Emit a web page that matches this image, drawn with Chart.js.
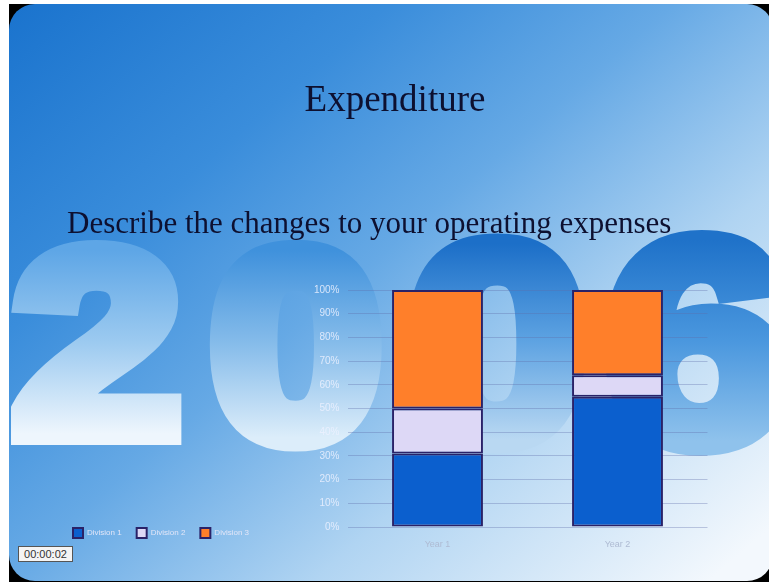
<!DOCTYPE html>
<html lang="en">
<head>
  <meta charset="UTF-8">
  <title>Expenditure</title>
  <script src="https://cdn.jsdelivr.net/npm/chart.js"></script>
  <style>
    html, body {
      margin: 0;
      padding: 0;
      background: #fff;
      width: 769px;
      height: 582px;
      overflow: hidden;
    }
    #backdrop {
      position: absolute;
      left: 0;
      top: 0;
    }
    #title {
      position: absolute;
      left: 0;
      top: 80px;
      width: 790px;
      text-align: center;
      font-family: "Liberation Serif", serif;
      font-size: 37px;
      line-height: 37px;
      color: #0d1030;
    }
    #subtitle {
      position: absolute;
      left: 67px;
      top: 207px;
      font-family: "Liberation Serif", serif;
      font-size: 31px;
      line-height: 31px;
      color: #0d1030;
      white-space: nowrap;
    }
    #chartBox {
      position: absolute;
      left: 58px;
      top: 276px;
      width: 711px;
      height: 308px;
    }
    #clock {
      position: absolute;
      left: 18px;
      top: 546px;
      width: 53px;
      height: 14px;
      background: #f4f4f4;
      border: 1px solid #555;
      font-family: "Liberation Sans", sans-serif;
      font-size: 11px;
      line-height: 14px;
      color: #333;
      text-align: center;
    }
  </style>
</head>
<body>
<canvas id="backdrop" width="769" height="582"></canvas>

<div id="title">Expenditure</div>
<div id="subtitle">Describe the changes to your operating expenses</div>

<div id="chartBox"><canvas id="expChart"></canvas></div>
<div id="clock">00:00:02</div>

<script>
const categories = ['Year 1', 'Year 2'];
const seriesNames = ['Division 1', 'Division 2', 'Division 3'];
const division1 = [31, 55];
const division2 = [19, 9];
const division3 = [50, 36];
const seriesColors = ['#0b5fce', '#ddd8f6', '#ff7f2a'];

// slide background with the big "2006" behind everything
(function drawBackdrop() {
  const c = document.getElementById('backdrop').getContext('2d');
  c.fillStyle = '#fff';
  c.fillRect(0, 0, 769, 582);
  c.fillStyle = '#000';
  c.fillRect(9, 4, 770, 590);

  const bg = c.createLinearGradient(40, -60, 640, 640);
  bg.addColorStop(0, '#1670cc');
  bg.addColorStop(0.3, '#3a8ddb');
  bg.addColorStop(0.5, '#66a9e5');
  bg.addColorStop(0.72, '#b0d4f2');
  bg.addColorStop(1, '#f3f8fd');
  c.beginPath();
  c.roundRect(9, 4, 764, 577, 26);
  c.fillStyle = bg;
  c.fill();

  const digits = [
    { ch: '2', cx: 97,  base: 434, size: 262, tone: ['#5ea6e6', '#9ccaf0', '#eef6fd'] },
    { ch: '0', cx: 296, base: 438, size: 268, tone: ['#3f91dc', '#86bcea', '#dcedfa'] },
    { ch: '0', cx: 497, base: 440, size: 280, tone: ['#1c6fc8', '#5ea3e2', '#b9d8f2'] },
    { ch: '6', cx: 697, base: 442, size: 288, tone: ['#1f72c9', '#4a97de', '#8fc2ec'] }
  ];
  digits.forEach(d => {
    const h = d.size * 0.74;
    const g = c.createLinearGradient(0, d.base - h, 0, d.base + 10);
    g.addColorStop(0.05, d.tone[0]);
    g.addColorStop(0.5, d.tone[1]);
    g.addColorStop(0.95, d.tone[2]);
    c.save();
    c.translate(d.cx, 0);
    c.scale(1.15, 1);
    c.font = 'bold ' + d.size + 'px "Liberation Sans", Arial, sans-serif';
    c.textAlign = 'center';
    c.textBaseline = 'alphabetic';
    c.fillStyle = g;
    c.strokeStyle = g;
    c.lineWidth = 22;
    c.lineJoin = 'miter';
    c.miterLimit = 2;
    c.fillText(d.ch, 0, d.base);
    c.strokeText(d.ch, 0, d.base);
    c.restore();
  });
})();

// legend sits on the same line as the foot of the bars
const legendLift = {
  id: 'legendLift',
  afterLayout(chart) {
    const lg = chart.legend;
    lg.top -= 36;
    lg.bottom -= 36;
  }
};

Chart.defaults.font.family = '"Liberation Sans", Arial, sans-serif';

const ctx = document.getElementById('expChart').getContext('2d');
new Chart(ctx, {
  type: 'bar',
  data: {
    labels: categories,
    datasets: [division1, division2, division3].map((vals, i) => ({
      label: seriesNames[i],
      data: vals,
      backgroundColor: seriesColors[i],
      borderColor: '#2a2268',
      borderWidth: 2,
      borderSkipped: false,
      barPercentage: 0.505,
      categoryPercentage: 1.0
    }))
  },
  options: {
    responsive: true,
    maintainAspectRatio: false,
    animation: false,
    layout: { padding: { left: 0, right: 61.5, top: 10, bottom: 0 } },
    plugins: {
      title: { display: false },
      tooltip: { enabled: false },
      legend: {
        position: 'bottom',
        align: 'start',
        labels: {
          boxWidth: 10,
          boxHeight: 10,
          padding: 15,
          color: '#e2e6f8',
          font: { size: 8 }
        }
      }
    },
    scales: {
      x: {
        stacked: true,
        grid: { display: false },
        border: { display: false },
        ticks: { color: '#aebbd3', font: { size: 9 }, padding: 4 },
        afterFit: scale => { scale.height = 22; }
      },
      y: {
        stacked: true,
        min: 0,
        max: 100,
        border: { display: false },
        grid: { color: 'rgba(95,110,170,0.35)', lineWidth: 1, drawTicks: false },
        ticks: {
          stepSize: 10,
          padding: 8,
          color: 'rgba(236,241,255,0.85)',
          font: { size: 10 },
          callback: v => v + '%'
        },
        afterFit: scale => { scale.width = 289.5; }
      }
    }
  },
  plugins: [legendLift]
});
</script>
</body>
</html>
